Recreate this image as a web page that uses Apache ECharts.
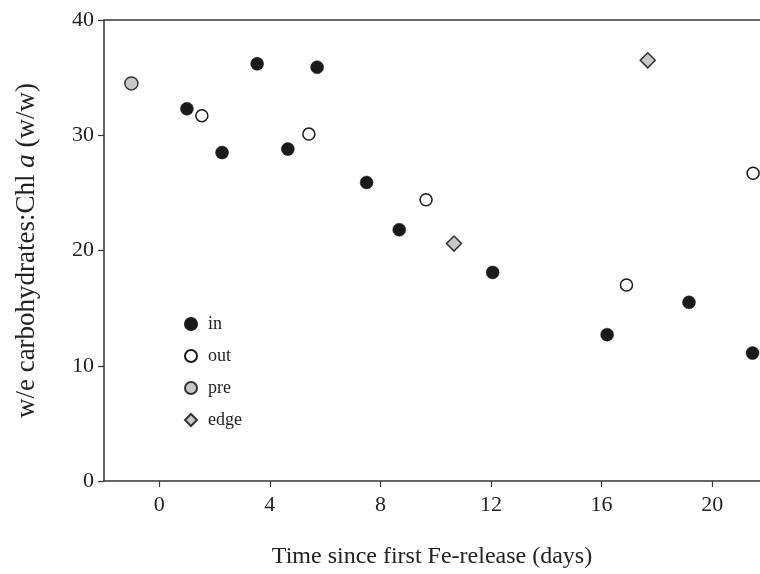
<!DOCTYPE html>
<html>
<head>
<meta charset="utf-8">
<script src="https://cdn.jsdelivr.net/npm/echarts@6/dist/echarts.min.js"></script>
<style>html,body{margin:0;padding:0;background:#fff}#c{width:760px;height:574px}</style>
</head>
<body>
<div id="c"></div>
<script>
var xTicks = [0, 4, 8, 12, 16, 20];
var inData = [[1.0, 32.3], [2.27, 28.5], [3.54, 36.2], [4.65, 28.8], [5.71, 35.9], [7.5, 25.9], [8.68, 21.8], [12.06, 18.1], [16.2, 12.7], [19.16, 15.5], [21.46, 11.1]];
var outData = [[1.54, 31.7], [5.41, 30.1], [9.65, 24.4], [16.9, 17.0], [21.48, 26.7]];
var preData = [[-1.01, 34.5]];
var edgeData = [[10.66, 20.6], [17.67, 36.5]];

var font = '"Liberation Serif", "DejaVu Serif", serif';
var chart = echarts.init(document.getElementById('c'));
chart.setOption({
  animation: false,
  backgroundColor: '#fff',
  textStyle: { fontFamily: font },
  grid: { left: 104, top: 20, right: 0, bottom: 90, containLabel: false },
  legend: {
    orient: 'vertical',
    left: 179, top: 310,
    itemWidth: 12, itemHeight: 12,
    itemGap: 14,
    textStyle: { fontFamily: font, fontSize: 18, color: '#222', padding: [0, 0, 0, 6] },
    data: ['in', 'out', 'pre', 'edge']
  },
  xAxis: [{
    type: 'value', min: -2, max: 21.73,
    axisLine: { show: true, onZero: false, lineStyle: { color: '#333', width: 1.5 } },
    axisTick: { show: true, customValues: xTicks, length: 6, lineStyle: { color: '#333', width: 1.2 } },
    axisLabel: { customValues: xTicks, fontSize: 22, color: '#222', margin: 13, fontFamily: font },
    splitLine: { show: false },
    name: 'Time since first Fe-release (days)',
    nameLocation: 'middle', nameGap: 64,
    nameTextStyle: { fontSize: 24, color: '#222', fontFamily: font }
  }, {
    type: 'value', position: 'top', min: -2, max: 21.73,
    axisLine: { show: true, onZero: false, lineStyle: { color: '#333', width: 1.5 } },
    axisTick: { show: false }, axisLabel: { show: false }, splitLine: { show: false }
  }],
  yAxis: {
    type: 'value', min: 0, max: 40, interval: 10,
    axisLine: { show: true, onZero: false, lineStyle: { color: '#333', width: 1.5 } },
    axisTick: { show: true, length: 6, lineStyle: { color: '#333', width: 1.2 } },
    axisLabel: { fontSize: 22, color: '#222', margin: 10, fontFamily: font },
    splitLine: { show: false },
    name: '{n|w/e carbohydrates:Chl }{i|a}{n| (w/w)}',
    nameLocation: 'middle', nameGap: 64,
    nameTextStyle: {
      rich: {
        n: { fontSize: 27, color: '#222', fontFamily: font },
        i: { fontSize: 27, color: '#222', fontFamily: font, fontStyle: 'italic' }
      }
    }
  },
  series: [
    { name: 'in', type: 'scatter', data: inData, symbol: 'circle', symbolSize: 13,
      itemStyle: { color: '#1a1a1a', borderColor: '#1a1a1a', borderWidth: 0.5, opacity: 1 } },
    { name: 'out', type: 'scatter', data: outData, symbol: 'circle', symbolSize: 12,
      itemStyle: { color: '#fff', borderColor: '#1a1a1a', borderWidth: 1.5, opacity: 1 } },
    { name: 'pre', type: 'scatter', data: preData, symbol: 'circle', symbolSize: 13,
      itemStyle: { color: '#c8c8c8', borderColor: '#333', borderWidth: 1.5, opacity: 1 } },
    { name: 'edge', type: 'scatter', data: edgeData, symbol: 'diamond', symbolSize: [15, 15],
      itemStyle: { color: '#c8c8c8', borderColor: '#333', borderWidth: 1.5, opacity: 1 } }
  ]
});
</script>
</body>
</html>
